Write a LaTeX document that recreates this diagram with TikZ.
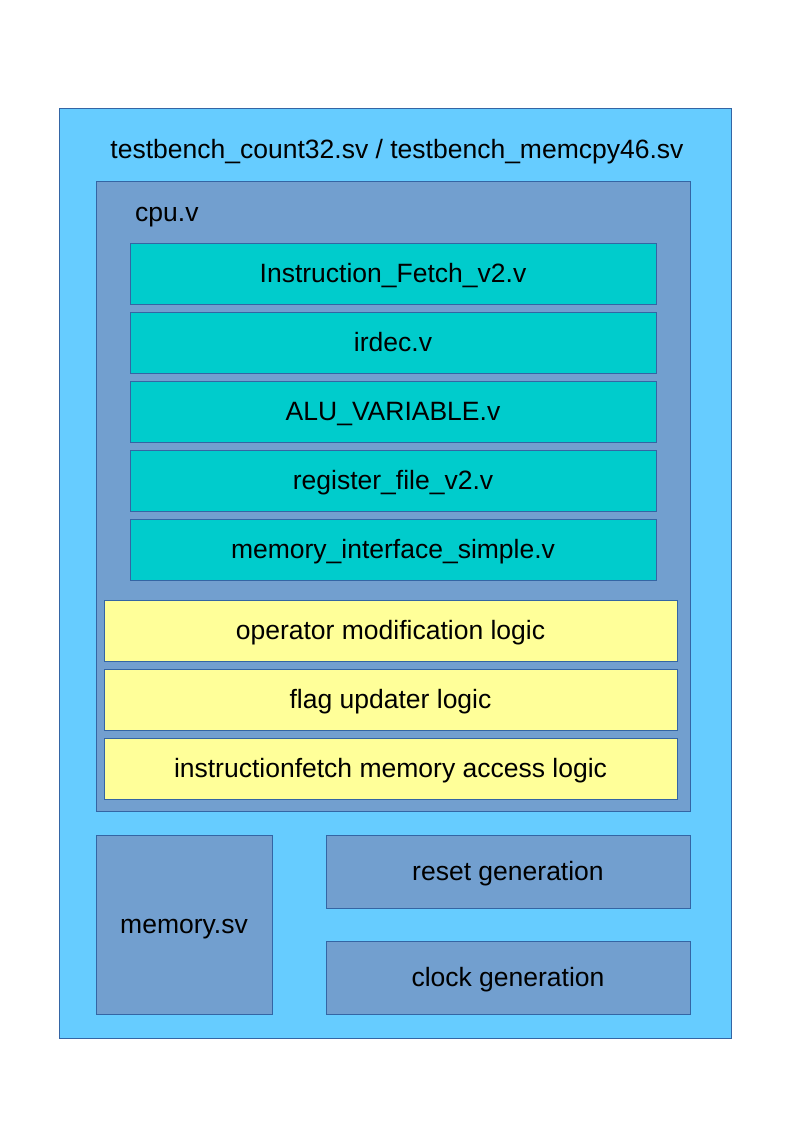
\documentclass[tikz,border=0pt]{standalone}
\usepackage{fontspec}
\setmainfont{Liberation Sans}
\definecolor{outerblue}{HTML}{66CCFF}
\definecolor{cpublue}{HTML}{729FCF}
\definecolor{teal}{HTML}{00CCCC}
\definecolor{yel}{HTML}{FFFF99}
\definecolor{edge}{HTML}{3465A4}
\begin{document}
\begin{tikzpicture}[x=1pt,y=-1pt,
  box/.style={draw=edge,line width=1pt},
  lbl/.style={font=\fontsize{26.5}{30}\selectfont,text=black,inner sep=0pt,anchor=base}]
\useasboundingbox (0,0) rectangle (794,1123);
\fill[white] (0,0) rectangle (794,1123);
\draw[box,fill=outerblue] (59,109) rectangle (731,1038);
\node[lbl] (tb) at (397,158.5) {testbench\_count32.sv / testbench\_memcpy46.sv};
\draw[box,fill=cpublue] (96,182) rectangle (690,811);
\node[lbl,anchor=base west] (cpu) at (135,222) {cpu.v};
\foreach \y/\t [count=\i] in {243/Instruction\_Fetch\_v2.v,312/irdec.v,381/ALU\_VARIABLE.v,450/register\_file\_v2.v,519/memory\_interface\_simple.v}{
  \draw[box,fill=teal] (130,\y) rectangle (656,\y+61);
  \node[lbl] (m\i) at (393,\y+39) {\t};
}
\foreach \y/\t [count=\i] in {600/operator modification logic,669/flag updater logic,738/instructionfetch memory access logic}{
  \draw[box,fill=yel] (104,\y) rectangle (677,\y+61);
  \node[lbl] (l\i) at (390.5,\y+39) {\t};
}
\draw[box,fill=cpublue] (96,835) rectangle (272,1014);
\node[lbl] (mem) at (184,933) {memory.sv};
\draw[box,fill=cpublue] (326,835) rectangle (690,908);
\node[lbl] (rst) at (508,880) {reset generation};
\draw[box,fill=cpublue] (326,941) rectangle (690,1014);
\node[lbl] (clk) at (508,986) {clock generation};
\end{tikzpicture}
\end{document}
